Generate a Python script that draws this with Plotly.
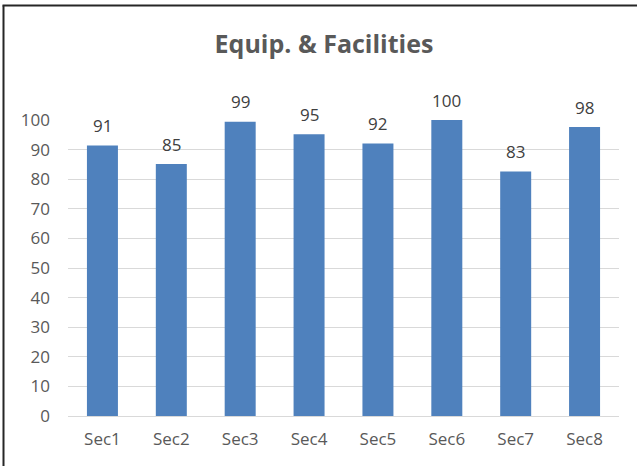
import plotly.graph_objects as go

categories = ["Sec1", "Sec2", "Sec3", "Sec4", "Sec5", "Sec6", "Sec7", "Sec8"]
values = [91.4, 85.1, 99.4, 95.2, 92.1, 100.0, 82.6, 97.6]
labels = ["91", "85", "99", "95", "92", "100", "83", "98"]
y_ticks = [0, 10, 20, 30, 40, 50, 60, 70, 80, 90, 100]

FONT = "'Open Sans', Lato, sans-serif"

fig = go.Figure(
    go.Bar(
        x=categories,
        y=values,
        marker=dict(color="#4F81BD", line=dict(width=0)),
        cliponaxis=False,
        hoverinfo="x+y",
    )
)

for c, v, t in zip(categories, values, labels):
    fig.add_annotation(
        x=c, y=v, text=t, showarrow=False,
        yanchor="middle", yshift=20,
        font=dict(family=FONT, size=17, color="#404040"),
    )

L, R, T, B = 68, 18, 120, 50
W, H = 637, 466
pw, ph = W - L - R, H - T - B

fig.update_layout(
    width=W,
    height=H,
    margin=dict(l=L, r=R, t=T, b=B),
    paper_bgcolor="white",
    plot_bgcolor="white",
    bargap=0.55,
    showlegend=False,
    title=dict(
        text="<b>Equip. & Facilities</b>",
        x=324 / W,
        xanchor="center",
        y=1 - 44 / H,
        yanchor="middle",
        font=dict(family=FONT, size=25, color="#595959"),
    ),
    xaxis=dict(
        showgrid=False,
        showline=False,
        ticks="",
        tickfont=dict(family=FONT, size=17, color="#595959"),
        ticklabelstandoff=11,
    ),
    yaxis=dict(
        range=[0, 100],
        tickvals=y_ticks,
        showgrid=True,
        gridcolor="#D9D9D9",
        gridwidth=1,
        zeroline=True,
        zerolinecolor="#D9D9D9",
        zerolinewidth=1,
        showline=False,
        ticks="",
        tickfont=dict(family=FONT, size=17, color="#595959"),
        ticklabelstandoff=17,
    ),
    shapes=[
        dict(type="line", xref="paper", yref="paper",
             x0=(3.5 - L) / pw, x1=(3.5 - L) / pw,
             y0=1 + (T - 5.5) / ph, y1=-(B + 5) / ph,
             line=dict(color="#262626", width=2)),
        dict(type="line", xref="paper", yref="paper",
             x0=(2.5 - L) / pw, x1=(W + 5 - L) / pw,
             y0=1 + (T - 5.5) / ph, y1=1 + (T - 5.5) / ph,
             line=dict(color="#262626", width=2)),
    ],
)

fig.write_html(
    "out.html",
    config={"displayModeBar": False},
    post_script="document.body.style.margin='0';",
)
